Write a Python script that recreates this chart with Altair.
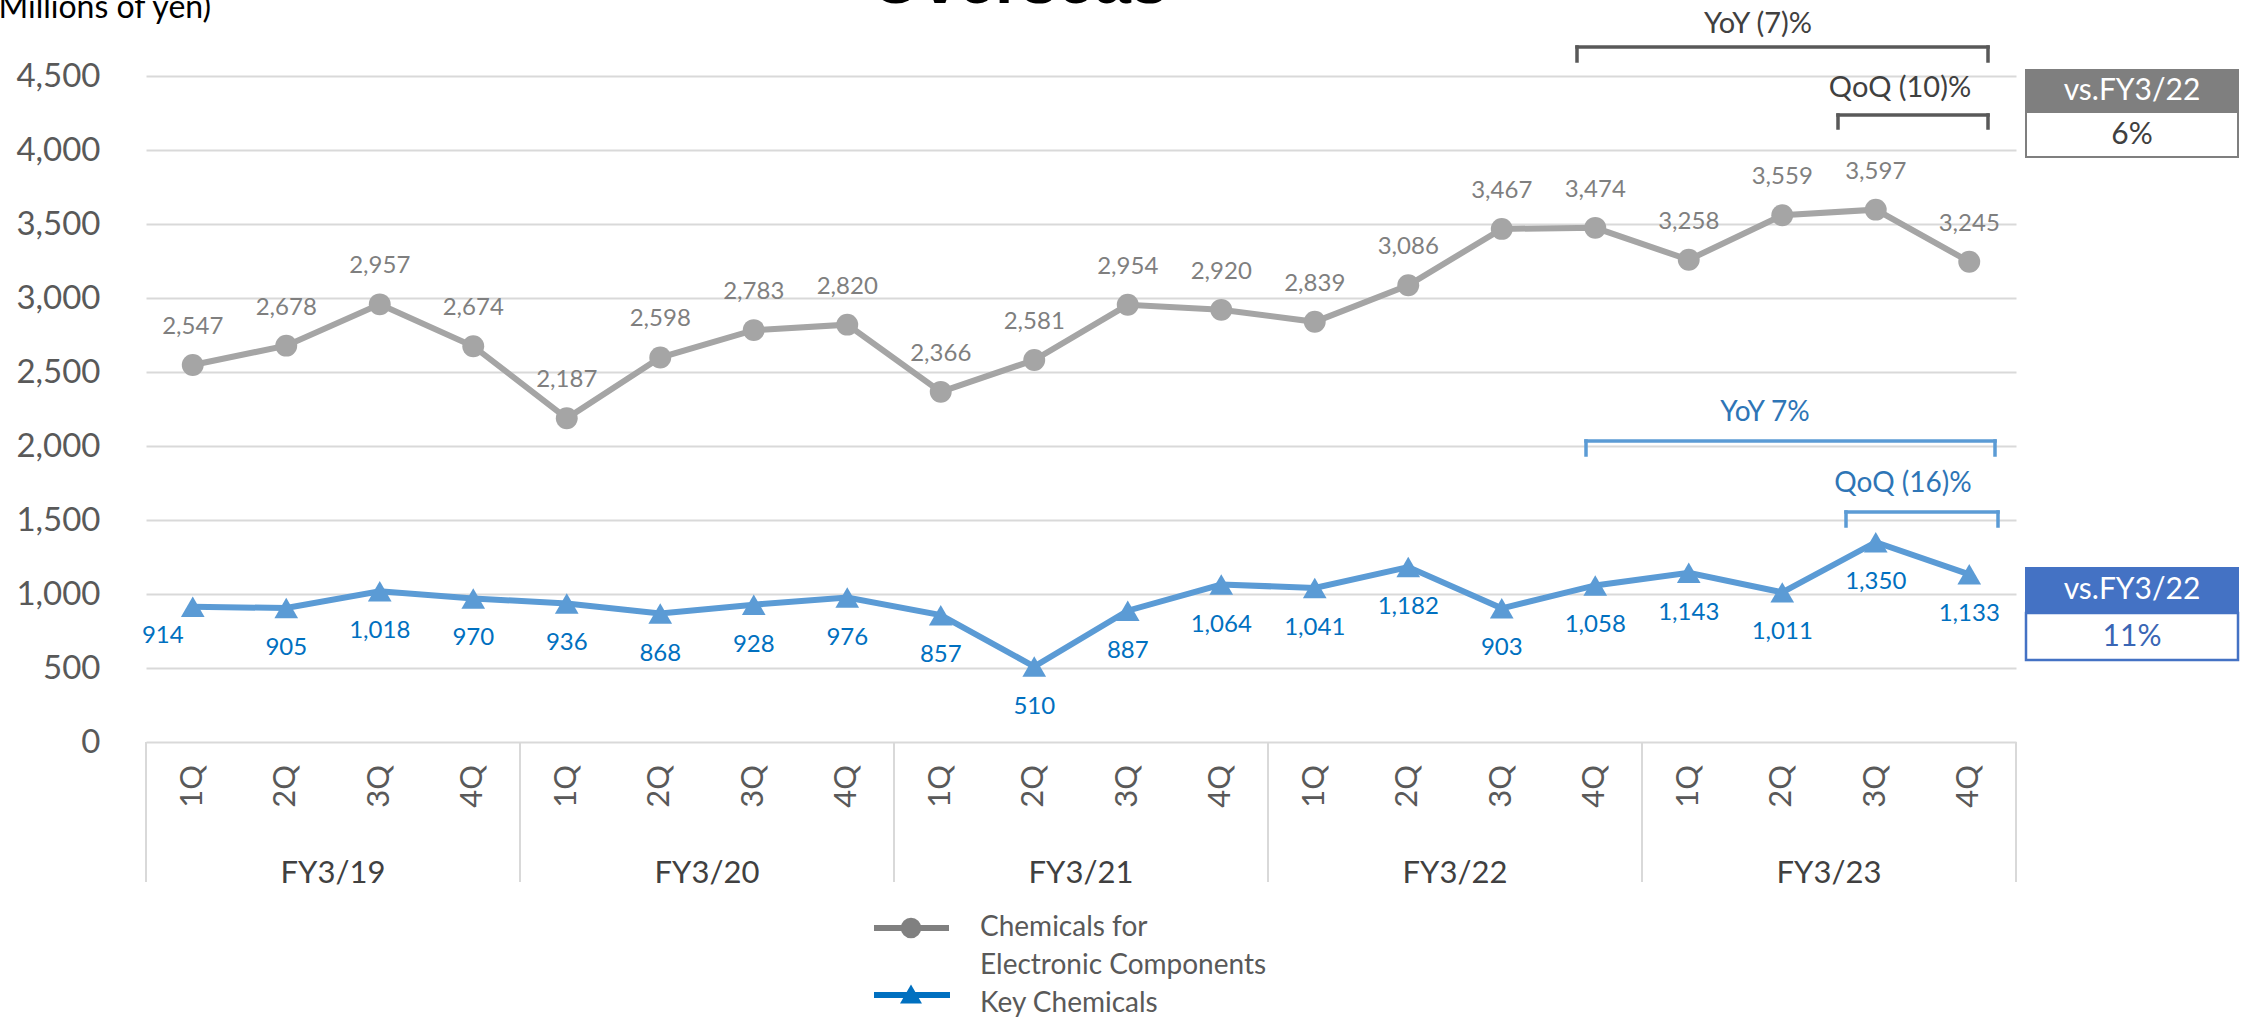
import altair as alt
import pandas as pd

# ---------------- data ----------------
quarters = ["1Q", "2Q", "3Q", "4Q"] * 5
fiscal_years = ["FY3/19", "FY3/20", "FY3/21", "FY3/22", "FY3/23"]
chem_electronic = [2547, 2678, 2957, 2674, 2187, 2598, 2783, 2820, 2366, 2581,
                   2954, 2920, 2839, 3086, 3467, 3474, 3258, 3559, 3597, 3245]
key_chemicals = [914, 905, 1018, 970, 936, 868, 928, 976, 857, 510,
                 887, 1064, 1041, 1182, 903, 1058, 1143, 1011, 1350, 1133]
y_ticks = [0, 500, 1000, 1500, 2000, 2500, 3000, 3500, 4000, 4500]

df = pd.DataFrame({
    "idx": list(range(20)),
    "quarter": quarters,
    "fy": [fy for fy in fiscal_years for _ in range(4)],
    "chem": chem_electronic,
    "key": key_chemicals,
})
df["xpos"] = df["idx"] + 0.5
fy_df = pd.DataFrame({"fy": fiscal_years, "xc": [2, 6, 10, 14, 18]})
sep_df = pd.DataFrame({"xs": [0, 4, 8, 12, 16, 20]})

# ---------------- layout ----------------
LEFT, TOP = 146, 76
PW, PH = 1870, 666
W, H = 2243, 1022


def px(x):
    return x - LEFT


def py(y):
    return y - TOP


FONT = "Lato"
GRAY_LINE = "#A5A5A5"
GRAY_LAB = "#7F7F7F"
BLUE_LINE = "#5B9BD5"
BLUE_LAB = "#0070C0"
NUMFMT = ",.0f"

xenc = alt.X("xpos:Q", scale=alt.Scale(domain=[0, 20]), axis=None)
yscale = alt.Scale(domain=[0, 4500])

base = alt.Chart(df)

gray_line = base.mark_line(color=GRAY_LINE, strokeWidth=6).encode(
    x=xenc,
    y=alt.Y("chem:Q", scale=yscale, axis=alt.Axis(
        values=y_ticks, format=NUMFMT, title=None, domain=False, ticks=False,
        labelPadding=46, labelFontSize=33, labelFont=FONT, labelColor="#595959",
        grid=True, gridColor="#D9D9D9", gridWidth=2)),
)
gray_pts = base.mark_point(shape="circle", filled=True, opacity=1, size=480,
                           color=GRAY_LINE).encode(x=xenc, y=alt.Y("chem:Q", scale=yscale))
gray_lab = base.mark_text(dy=-38, fontSize=24, font=FONT, color=GRAY_LAB).encode(
    x=xenc, y=alt.Y("chem:Q", scale=yscale), text=alt.Text("chem:Q", format=NUMFMT))

blue_line = base.mark_line(color=BLUE_LINE, strokeWidth=6).encode(
    x=xenc, y=alt.Y("key:Q", scale=yscale))
blue_pts = base.mark_point(shape="triangle-up", filled=True, opacity=1, size=560,
                           color=BLUE_LINE).encode(x=xenc, y=alt.Y("key:Q", scale=yscale))
blue_lab = base.transform_filter("datum.idx > 0").mark_text(
    dy=40, fontSize=24, font=FONT, color=BLUE_LAB).encode(
    x=xenc, y=alt.Y("key:Q", scale=yscale), text=alt.Text("key:Q", format=NUMFMT))
blue_lab0 = base.transform_filter("datum.idx == 0").mark_text(
    dy=29, dx=-30, fontSize=24, font=FONT, color=BLUE_LAB).encode(
    x=xenc, y=alt.Y("key:Q", scale=yscale), text=alt.Text("key:Q", format=NUMFMT))

# category axis (hierarchical)
seps = alt.Chart(sep_df).mark_rule(color="#D9D9D9", strokeWidth=2).encode(
    x=alt.X("xs:Q", scale=alt.Scale(domain=[0, 20]), axis=None),
    y=alt.value(py(742)), y2=alt.value(py(882)))
q_labels = base.mark_text(angle=270, align="right", baseline="middle", fontSize=31,
                          font=FONT, color="#595959").encode(
    x=xenc, y=alt.value(py(765)), text="quarter:N")
fy_labels = alt.Chart(fy_df).mark_text(baseline="middle", fontSize=31, font=FONT,
                                       color="#404040").encode(
    x=alt.X("xc:Q", scale=alt.Scale(domain=[0, 20]), axis=None),
    y=alt.value(py(874)), text="fy:N")


def one(text=""):
    return alt.Chart(pd.DataFrame({"t": [text]}))


def label(text, x, y, size, color, align="center", baseline="middle", weight="normal", font=FONT):
    return one(text).mark_text(align=align, baseline=baseline, fontSize=size,
                               color=color, fontWeight=weight, font=font).encode(
        x=alt.value(px(x)), y=alt.value(py(y)), text="t:N")


def bracket(x1, x2, ytop, ybot, color):
    h = one().mark_rule(color=color, strokeWidth=3.5, strokeCap="square").encode(
        x=alt.value(px(x1)), x2=alt.value(px(x2)), y=alt.value(py(ytop)))
    v1 = one().mark_rule(color=color, strokeWidth=3.5, strokeCap="square").encode(
        x=alt.value(px(x1)), y=alt.value(py(ytop)), y2=alt.value(py(ybot)))
    v2 = one().mark_rule(color=color, strokeWidth=3.5, strokeCap="square").encode(
        x=alt.value(px(x2)), y=alt.value(py(ytop)), y2=alt.value(py(ybot)))
    return [h, v1, v2]


def rect(x1, x2, y1, y2, fill, stroke=None, sw=0):
    kw = dict(fill=fill)
    if stroke:
        kw.update(stroke=stroke, strokeWidth=sw)
    return one().mark_rect(**kw).encode(
        x=alt.value(px(x1)), x2=alt.value(px(x2)), y=alt.value(py(y1)), y2=alt.value(py(y2)))


annos = []
# brackets and change texts
annos += bracket(1577, 1988, 47, 61, "#595959")
annos += bracket(1838, 1988, 115, 128, "#595959")
annos += bracket(1586, 1995, 441, 455, BLUE_LINE)
annos += bracket(1846, 1998, 512, 526, BLUE_LINE)
annos.append(label("YoY (7)%", 1758, 24, 29, "#404040"))
annos.append(label("QoQ (10)%", 1900, 88, 29, "#404040"))
annos.append(label("YoY 7%", 1765, 413, 28, "#2E75B6"))
annos.append(label("QoQ (16)%", 1903, 484, 28, "#2E75B6"))

# comparison boxes
annos.append(rect(2025, 2239, 69, 112, "#7F7F7F"))
annos.append(rect(2026, 2238, 112, 157, "white", "#7F7F7F", 2))
annos.append(label("vs.FY3/22", 2132, 91, 30, "white"))
annos.append(label("6%", 2132, 135, 30, "#404040"))
annos.append(rect(2025, 2239, 567, 613, "#4472C4"))
annos.append(rect(2026, 2238, 613, 660, "white", "#4472C4", 2.5))
annos.append(label("vs.FY3/22", 2132, 590, 30, "white"))
annos.append(label("11%", 2132, 637, 30, "#3A66B5"))

# legend
annos.append(one().mark_rule(color="#808080", strokeWidth=6).encode(
    x=alt.value(px(874)), x2=alt.value(px(949)), y=alt.value(py(928))))
annos.append(one().mark_point(shape="circle", filled=True, opacity=1, size=420,
                              color="#808080").encode(
    x=alt.value(px(911)), y=alt.value(py(928))))
annos.append(one().mark_rule(color="#0070C0", strokeWidth=6).encode(
    x=alt.value(px(874)), x2=alt.value(px(950)), y=alt.value(py(995))))
annos.append(one().mark_point(shape="triangle-up", filled=True, opacity=1, size=480,
                              color="#0070C0").encode(
    x=alt.value(px(911)), y=alt.value(py(994))))
annos.append(label("Chemicals for", 980, 928, 28, "#595959", align="left"))
annos.append(label("Electronic Components", 980, 966, 28, "#595959", align="left"))
annos.append(label("Key Chemicals", 980, 1004, 28, "#595959", align="left"))

# title and units (cut by the top edge, as in the source)
annos.append(label("Overseas", 1019, 3, 66, "#000000", baseline="alphabetic",
                   weight="bold", font="Liberation Sans"))
annos.append(label("(Millions of yen)", -10, 18, 32, "#000000", align="left",
                   baseline="alphabetic"))

chart = alt.layer(
    gray_line, seps, q_labels, fy_labels,
    gray_pts, blue_line, blue_pts, gray_lab, blue_lab, blue_lab0,
    *annos
).properties(
    width=PW, height=PH,
    autosize=alt.AutoSizeParams(type="none"),
    padding={"left": LEFT, "top": TOP, "right": W - LEFT - PW, "bottom": H - TOP - PH},
    background="white",
).configure_view(stroke=None)

chart.save("out.html", embed_options={"renderer": "svg", "actions": False})
